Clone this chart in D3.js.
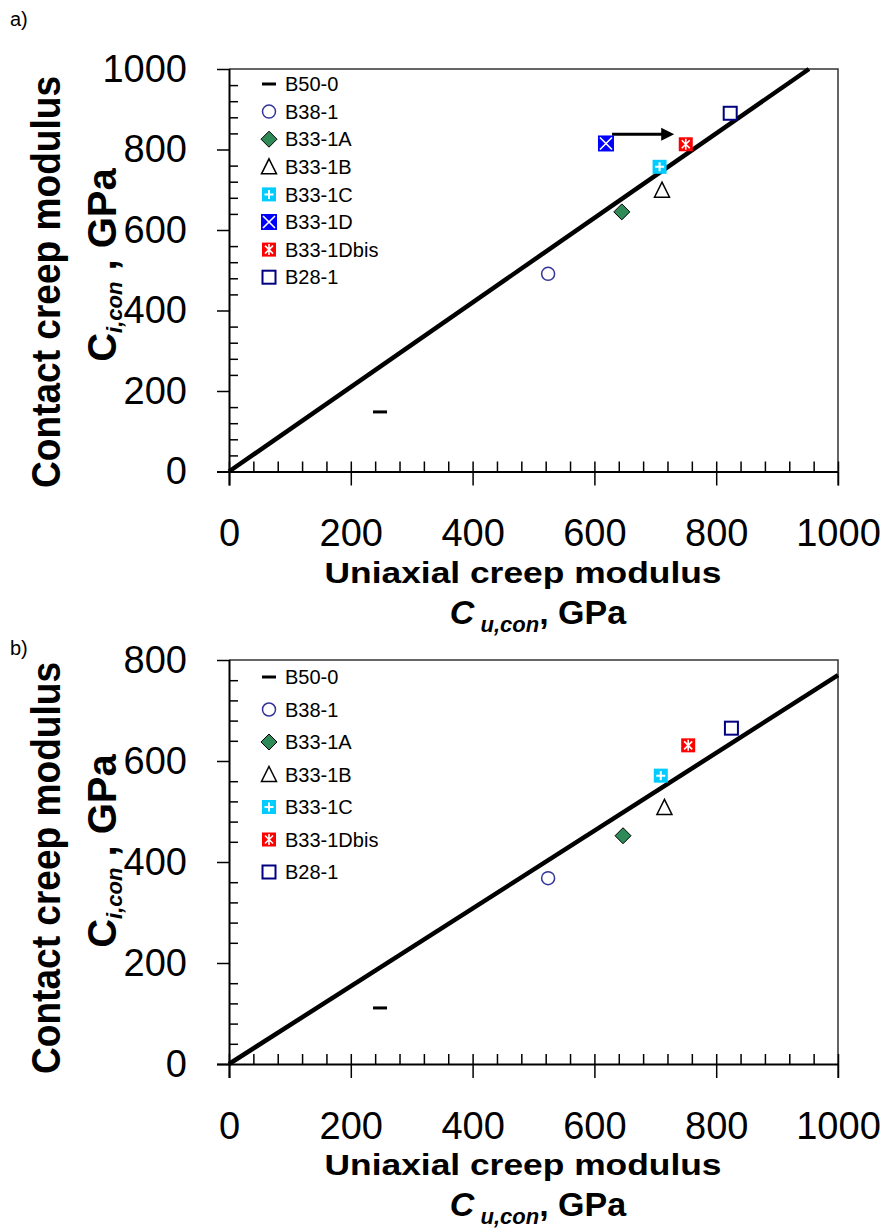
<!DOCTYPE html>
<html>
<head>
<meta charset="utf-8">
<script src="https://cdn.jsdelivr.net/npm/d3@7"></script>
<style>
  html, body { margin: 0; padding: 0; background: #fff; }
  svg { display: block; font-family: "Liberation Sans", Arial, sans-serif; }
</style>
</head>
<body>
<svg id="chart" width="890" height="1229"></svg>
<script>
// Specimens and their creep moduli (GPa): uniaxial (x) vs contact (y)
const specimensA = ["B50-0", "B38-1", "B33-1A", "B33-1B", "B33-1C", "B33-1D", "B33-1Dbis", "B28-1"];
const uniaxialA  = [248, 524, 645, 711, 707, 619, 750, 823];
const contactA   = [148, 491, 645, 699, 757, 815, 813, 890];

const specimensB = ["B50-0", "B38-1", "B33-1A", "B33-1B", "B33-1C", "B33-1Dbis", "B28-1"];
const uniaxialB  = [248, 524, 647, 715, 709, 754, 825];
const contactB   = [111, 368, 452, 508, 571, 631, 665];

// Trend line slopes (contact = k * uniaxial)
const slopeA = 1.05;
const slopeB = 0.77;

// Shift of B33-1D after re-testing (arrow)
const shiftA = [[629, 838], [731, 838]];

const xTicks  = [0, 200, 400, 600, 800, 1000];
const yTicksA = [0, 200, 400, 600, 800, 1000];
const yTicksB = [0, 200, 400, 600, 800];

const markerOf = {
  "B50-0": "dash", "B38-1": "circle", "B33-1A": "diamond", "B33-1B": "triangle",
  "B33-1C": "plusbox", "B33-1D": "xbox", "B33-1Dbis": "starbox", "B28-1": "square"
};

const svg = d3.select("#chart");

function drawMarker(g, type) {
  switch (type) {
    case "dash":
      g.append("rect").attr("x", -7).attr("y", -1.5).attr("width", 14).attr("height", 3).attr("fill", "#000");
      break;
    case "circle":
      g.append("circle").attr("r", 6.5).attr("fill", "#fff").attr("stroke", "#333399").attr("stroke-width", 1.5);
      break;
    case "diamond":
      g.append("path").attr("d", "M0,-8L8,0L0,8L-8,0Z").attr("fill", "#2e8b57").attr("stroke", "#000").attr("stroke-width", 1);
      break;
    case "triangle":
      g.append("path").attr("d", "M0,-8L7.5,7L-7.5,7Z").attr("fill", "#fff").attr("stroke", "#000").attr("stroke-width", 1.5);
      break;
    case "plusbox":
      g.append("rect").attr("x", -7).attr("y", -7).attr("width", 14).attr("height", 14).attr("fill", "#00ccff");
      g.append("path").attr("d", "M-4.5,0H4.5M0,-4.5V4.5").attr("stroke", "#fff").attr("stroke-width", 2);
      break;
    case "xbox":
      g.append("rect").attr("x", -8).attr("y", -8).attr("width", 16).attr("height", 16).attr("fill", "#0000ff");
      g.append("path").attr("d", "M-6,-6L6,6M6,-6L-6,6").attr("stroke", "#fff").attr("stroke-width", 1.6);
      break;
    case "starbox":
      g.append("rect").attr("x", -7).attr("y", -7).attr("width", 14).attr("height", 14).attr("fill", "#ff0000");
      g.append("path").attr("d", "M-4,-4L4,4M4,-4L-4,4M0,-5.5V5.5").attr("stroke", "#fff").attr("stroke-width", 1.6);
      break;
    case "square":
      g.append("rect").attr("x", -6.5).attr("y", -6.5).attr("width", 13).attr("height", 13).attr("fill", "#fff").attr("stroke", "#000080").attr("stroke-width", 2);
      break;
  }
}

function drawPanel(p) {
  const x = d3.scaleLinear().domain([0, 1000]).range([p.left, p.right]);
  const y = d3.scaleLinear().domain([0, p.yMax]).range([p.bottom, p.top]);
  const g = svg.append("g");

  // frame (top and right edges)
  g.append("path")
    .attr("d", `M${p.left},${p.top}H${p.right}V${p.bottom + 14}`)
    .attr("fill", "none").attr("stroke", "#333").attr("stroke-width", 1.5);

  // minor ticks, pointing into the plot
  const minorX = d3.range(0, 1001, 40);
  const minorY = d3.range(0, p.yMax + 1, 40).filter(v => v % 200 !== 0);
  g.append("g").attr("transform", `translate(0,${p.bottom})`)
    .call(d3.axisBottom(x).tickValues(minorX).tickSize(-10).tickFormat(""))
    .call(a => a.select(".domain").remove())
    .call(a => a.selectAll("line").attr("stroke", "#000").attr("stroke-width", 1.5));
  g.append("g").attr("transform", `translate(${p.left},0)`)
    .call(d3.axisLeft(y).tickValues(minorY).tickSize(-9).tickFormat(""))
    .call(a => a.select(".domain").remove())
    .call(a => a.selectAll("line").attr("stroke", "#000").attr("stroke-width", 1.5));

  // major axes
  const xa = g.append("g").attr("transform", `translate(0,${p.bottom})`)
    .call(d3.axisBottom(x).tickValues(xTicks).tickSizeInner(14).tickSizeOuter(0).tickPadding(34).tickFormat(d3.format("d")));
  xa.select(".domain").attr("d", `M${p.left - 12},0.5H${p.right}`).attr("stroke", "#000").attr("stroke-width", 2);
  xa.selectAll("line").attr("stroke", "#000").attr("stroke-width", 1.5);
  xa.selectAll("text").attr("font-size", 38).attr("fill", "#000");

  const ya = g.append("g").attr("transform", `translate(${p.left},0)`)
    .call(d3.axisLeft(y).tickValues(p.yTicks).tickSizeInner(12).tickSizeOuter(0).tickPadding(30).tickFormat(d3.format("d")));
  ya.select(".domain").attr("d", `M0.5,${p.top}V${p.bottom + 14}`).attr("stroke", "#000").attr("stroke-width", 2);
  ya.selectAll("line").attr("stroke", "#000").attr("stroke-width", 1.5);
  ya.selectAll("text").attr("font-size", 38).attr("fill", "#000");

  // trend line through the origin, clipped to the plot box
  const xEnd = Math.min(1000, p.yMax / p.slope);
  g.append("line")
    .attr("x1", x(0)).attr("y1", y(0))
    .attr("x2", x(xEnd)).attr("y2", y(p.slope * xEnd))
    .attr("stroke", "#000").attr("stroke-width", 4.5);

  // arrow
  if (p.shift) {
    const [s, e] = p.shift;
    const x1 = x(s[0]), y1 = y(s[1]), x2 = x(e[0]);
    g.append("line").attr("x1", x1).attr("y1", y1).attr("x2", x2 - 10).attr("y2", y1)
      .attr("stroke", "#000").attr("stroke-width", 3);
    g.append("path").attr("d", `M${x2},${y1}L${x2 - 13},${y1 - 6.5}L${x2 - 13},${y1 + 6.5}Z`).attr("fill", "#000");
  }

  // data points
  p.names.forEach((n, i) => {
    const m = g.append("g").attr("transform", `translate(${x(p.ux[i])},${y(p.cy[i])})`);
    drawMarker(m, markerOf[n]);
  });

  // legend
  p.names.forEach((n, i) => {
    const ly = p.legendTop + i * p.legendStep;
    const m = g.append("g").attr("transform", `translate(269,${ly})`);
    drawMarker(m, markerOf[n]);
    g.append("text").attr("x", 285).attr("y", ly).attr("dy", "0.36em")
      .attr("font-size", 20).text(n);
  });

  // panel tag
  g.append("text").attr("x", p.tagX).attr("y", p.tagY).attr("font-size", 20).text(p.tag);

  // y title, first line
  g.append("text").attr("transform", `translate(60,${p.yTitleMid}) rotate(-90)`)
    .attr("text-anchor", "middle").attr("font-weight", "bold").attr("font-size", 40)
    .attr("textLength", 412).attr("lengthAdjust", "spacingAndGlyphs")
    .text("Contact creep modulus");

  // y title, second line
  const yt2 = g.append("text").attr("transform", `translate(116,${p.yTitleMid - 17}) rotate(-90)`)
    .attr("text-anchor", "middle").attr("font-weight", "bold").attr("font-size", 40);
  yt2.append("tspan").text("C");
  yt2.append("tspan").attr("font-style", "italic").attr("font-size", 22).attr("dy", 6).text("i,con");
  yt2.append("tspan").attr("dy", -6).text(" , GPa");

  // x title
  g.append("text").attr("x", 523).attr("y", p.bottom + 111).attr("text-anchor", "middle")
    .attr("font-weight", "bold").attr("font-size", 30)
    .attr("textLength", 397).attr("lengthAdjust", "spacingAndGlyphs")
    .text("Uniaxial creep modulus");
  const xt2 = g.append("text").attr("x", 538).attr("y", p.bottom + 152).attr("text-anchor", "middle")
    .attr("font-weight", "bold").attr("font-size", 34);
  xt2.append("tspan").attr("font-style", "italic").text("C");
  xt2.append("tspan").attr("font-style", "italic").attr("font-size", 22).attr("dy", 8).text(" u,con");
  xt2.append("tspan").attr("dy", -8).text(", GPa");
}

drawPanel({
  left: 229, right: 838, top: 69, bottom: 471.5, yMax: 1000, yTicks: yTicksA,
  slope: slopeA, shift: shiftA,
  names: specimensA, ux: uniaxialA, cy: contactA,
  legendTop: 84, legendStep: 27.6,
  tag: "a)", tagX: 10, tagY: 26, yTitleMid: 282
});

drawPanel({
  left: 229, right: 838, top: 660, bottom: 1064, yMax: 800, yTicks: yTicksB,
  slope: slopeB, shift: null,
  names: specimensB, ux: uniaxialB, cy: contactB,
  legendTop: 677, legendStep: 32.5,
  tag: "b)", tagX: 10, tagY: 655, yTitleMid: 868
});
</script>
</body>
</html>
